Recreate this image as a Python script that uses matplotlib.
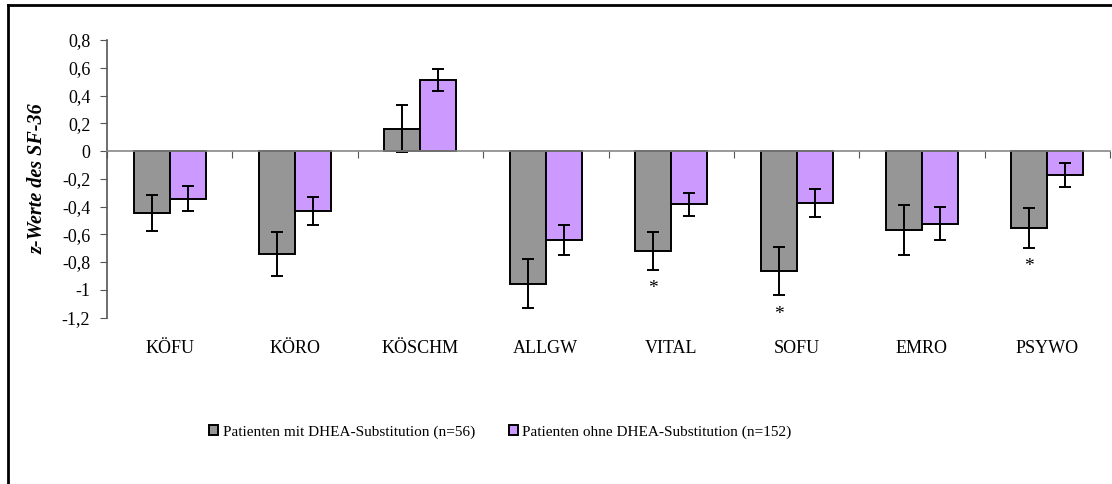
import matplotlib

matplotlib.use("Agg")
import matplotlib.pyplot as plt
import matplotlib.transforms as mtransforms
import numpy as np
from matplotlib.lines import Line2D

plt.rcParams["font.family"] = ["Liberation Serif", "DejaVu Serif"]

# Werte
categories = ["KÖFU", "KÖRO", "KÖSCHM", "ALLGW", "VITAL", "SOFU", "EMRO", "PSYWO"]
with_dhea = [-0.445, -0.742, 0.161, -0.956, -0.718, -0.865, -0.569, -0.557]
with_dhea_err = [0.13, 0.16, 0.17, 0.175, 0.137, 0.176, 0.183, 0.143]
without_dhea = [-0.344, -0.432, 0.514, -0.639, -0.384, -0.375, -0.524, -0.171]
without_dhea_err = [0.09, 0.10, 0.08, 0.108, 0.084, 0.102, 0.12, 0.085]
significant = [False, False, False, False, True, True, False, True]

yticks = [0.8, 0.6, 0.4, 0.2, 0, -0.2, -0.4, -0.6, -0.8, -1, -1.2]
ytick_labels = ["0,8", "0,6", "0,4", "0,2", "0", "-0,2", "-0,4", "-0,6", "-0,8", "-1", "-1,2"]

labels = ["Patienten mit DHEA-Substitution (n=56)",
          "Patienten ohne DHEA-Substitution (n=152)"]

fig = plt.figure(figsize=(11.12, 4.84), dpi=100)
ax = fig.add_axes([107 / 1112, 1 - 317.5 / 484, 1003 / 1112, 277.5 / 484])

x = np.arange(len(categories))
w = 0.287
err_kw = dict(ecolor="black", elinewidth=1.4, capsize=4.5, capthick=1.4)
ax.bar(x - w / 2, with_dhea, w, yerr=with_dhea_err, color="#969696",
       edgecolor="black", linewidth=1.4, error_kw=err_kw, label=labels[0], zorder=2)
ax.bar(x + w / 2, without_dhea, w, yerr=without_dhea_err, color="#cc99ff",
       edgecolor="black", linewidth=1.4, error_kw=err_kw, label=labels[1], zorder=2)

for i, sig in enumerate(significant):
    if sig:
        ax.text(x[i] - w / 2, with_dhea[i] - with_dhea_err[i] - 0.135, "*",
                ha="center", va="center", fontsize=14)

# Kategorienamen unterhalb der Achse
trans = mtransforms.blended_transform_factory(ax.transData, ax.transAxes)
for i, cat in enumerate(categories):
    ax.text(x[i], -0.11, cat, ha="center", va="center", fontsize=13,
            transform=trans, clip_on=False)

ax.set_xlim(-0.5, len(categories) - 0.5)
ax.set_ylim(-1.2, 0.8)
ax.set_yticks(yticks)
ax.set_yticklabels(ytick_labels, fontsize=13)
ax.set_xticks(np.arange(len(categories) + 1) - 0.5)
ax.set_xticklabels([])
ax.tick_params(axis="x", direction="out", length=5, color="#555555")
ax.tick_params(axis="y", direction="out", length=5, color="#555555", pad=7)

for s in ["top", "right"]:
    ax.spines[s].set_visible(False)
ax.spines["bottom"].set_position(("data", 0))
ax.spines["bottom"].set_color("#888888")
ax.spines["bottom"].set_linewidth(1.2)
ax.spines["left"].set_color("#555555")
ax.spines["left"].set_linewidth(1.2)

ax.set_ylabel("z-Werte des SF-36", fontsize=14.5, fontstyle="italic",
              fontweight="bold", labelpad=10)

fig.legend(loc="center", bbox_to_anchor=(0.45, 1 - 432 / 484), ncol=2,
           frameon=False, fontsize=11, handlelength=0.6, handleheight=0.6,
           handletextpad=0.3, columnspacing=2.2)

# Rahmen oben und links
fig.add_artist(Line2D([7.5 / 1112, 7.5 / 1112], [0, 1 - 5 / 484],
                      transform=fig.transFigure, color="black", lw=2))
fig.add_artist(Line2D([7.5 / 1112, 1], [1 - 5 / 484, 1 - 5 / 484],
                      transform=fig.transFigure, color="black", lw=2))

fig.savefig("out.png", dpi=100)
